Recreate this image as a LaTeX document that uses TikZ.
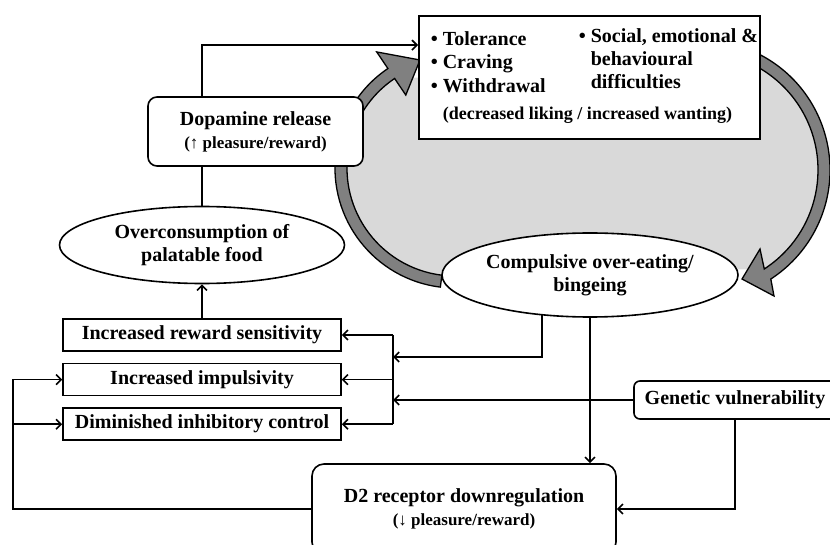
\documentclass[tikz,border=0pt]{standalone}
\usepackage{fontspec}
\setmainfont{Liberation Serif}
\usetikzlibrary{arrows.meta,positioning,shapes.geometric}

\definecolor{bandgray}{RGB}{128,128,128}
\definecolor{loopgray}{RGB}{217,217,217}
\newcommand{\mainsize}{\fontsize{20}{23}\selectfont\bfseries}
\newcommand{\subsize}{\fontsize{17}{20}\selectfont\bfseries}

\begin{document}
\begin{tikzpicture}[x=1pt, y=-1pt, line width=1.6pt,
	>={Straight Barb[length=5pt,width=10pt]},
	box node/.style={draw,fill=white,font=\mainsize,inner sep=0pt,minimum width=278pt,minimum height=32pt},
	round node/.style={draw,fill=white,rounded corners=9pt,font=\mainsize,align=center,inner sep=0pt},
	oval node/.style={ellipse,draw,fill=white,font=\mainsize,align=center,inner sep=0pt},
	list text/.style={font=\mainsize,inner sep=0pt,anchor=base west},
	band arrow/.style={draw=black,line width=1.3pt,fill=bandgray}]
	
	\useasboundingbox (0,0) rectangle (830,545);
	
	% the cycle behind
	\coordinate (cl) at (455,168);
	\coordinate (cr) at (700,170);
	\fill[loopgray] ([shift={(97:108)}]cl) arc[start angle=97,end angle=236,radius=108]
	-- ([shift={(-62:118)}]cr) arc[start angle=-62,end angle=57,radius=118] -- cycle;
	\draw[band arrow] ([shift={(97:120)}]cl) arc[start angle=97,end angle=236,radius=120]
	-- ([shift={(236:140)}]cl) -- (420,60) -- ([shift={(236:88)}]cl)
	-- ([shift={(236:108)}]cl) arc[start angle=236,end angle=97,radius=108] -- cycle;
	\draw[band arrow] ([shift={(-62:130)}]cr) arc[start angle=-62,end angle=57,radius=130]
	-- (774,296) -- (742,279) -- (760,249)
	-- ([shift={(57:118)}]cr) arc[start angle=57,end angle=-62,radius=118] -- cycle;
	
	\node[draw,fill=white,line width=1.8pt,minimum width=341pt,minimum height=123pt,inner sep=0pt] (sym) at (589.5,77.5) {};
	\node[list text] (tol) at (430,46) {• Tolerance};
	\node[list text] (crav) at (430,69) {• Craving};
	\node[list text] (wdr) at (430,93) {• Withdrawal};
	\node[list text] (soc) at (578,43) {• Social, emotional \&};
	\node[list text] (beh) at (590,66) {behavioural};
	\node[list text] (dif) at (590,89) {difficulties};
	\node[font=\fontsize{18}{21}\selectfont\bfseries,inner sep=0pt,anchor=base] (lik) at (587.5,120) {(decreased liking / increased wanting)};
	
	\node[round node,minimum width=215pt,minimum height=69pt] (dop) at (255.5,131.5) {Dopamine release\\{\subsize (↑ pleasure/reward)}};
	\node[oval node,minimum width=285pt,minimum height=77pt] (ovr) at (202,245) {Overconsumption of\\palatable food};
	\node[oval node,minimum width=296pt,minimum height=84pt] (comp) at (590,275) {Compulsive over-eating/\\bingeing};
	
	\node[box node] (rew) at (202,335) {Increased reward sensitivity};
	\node[box node,below=11pt of rew] (imp) {Increased impulsivity};
	\node[box node,below=11pt of imp] (inh) {Diminished inhibitory control};
	
	\node[round node,minimum width=202pt,minimum height=38pt,rounded corners=6pt] (gen) at (735,400) {Genetic vulnerability};
	\node[round node,minimum width=304pt,minimum height=90pt,rounded corners=12pt] (d2) at (464,509) {D2 receptor downregulation\\{\subsize (↓ pleasure/reward)}};
	
	\coordinate (jn) at (393,378);
	\coordinate (lp) at (13,378);
	
	\draw[->] (ovr.north |- dop.north) |- ([yshift=-30pt]sym.north west);
	\draw (ovr.north) -- (ovr.north |- dop.south);
	\draw[->] (rew.north) -- (ovr.south);
	\draw (jn |- rew.east) -- (jn |- inh.east);
	\draw[->] (jn |- rew.east) -- (rew.east);
	\draw[->] (jn |- imp.east) -- (imp.east);
	\draw[->] (jn |- inh.east) -- (inh.east);
	\draw[->] (comp.220) |- ([yshift=21pt]jn);
	\draw[->] (gen.west) -- (gen.west -| jn);
	\draw[->] (comp.south) -- (comp.south |- d2.north);
	\draw[->] (gen.south) |- (d2.east);
	\draw[->] (d2.west) -| (lp |- imp.west) -- (imp.west);
	\draw[->] (lp |- inh.west) -- (inh.west);
\end{tikzpicture}
\end{document}
